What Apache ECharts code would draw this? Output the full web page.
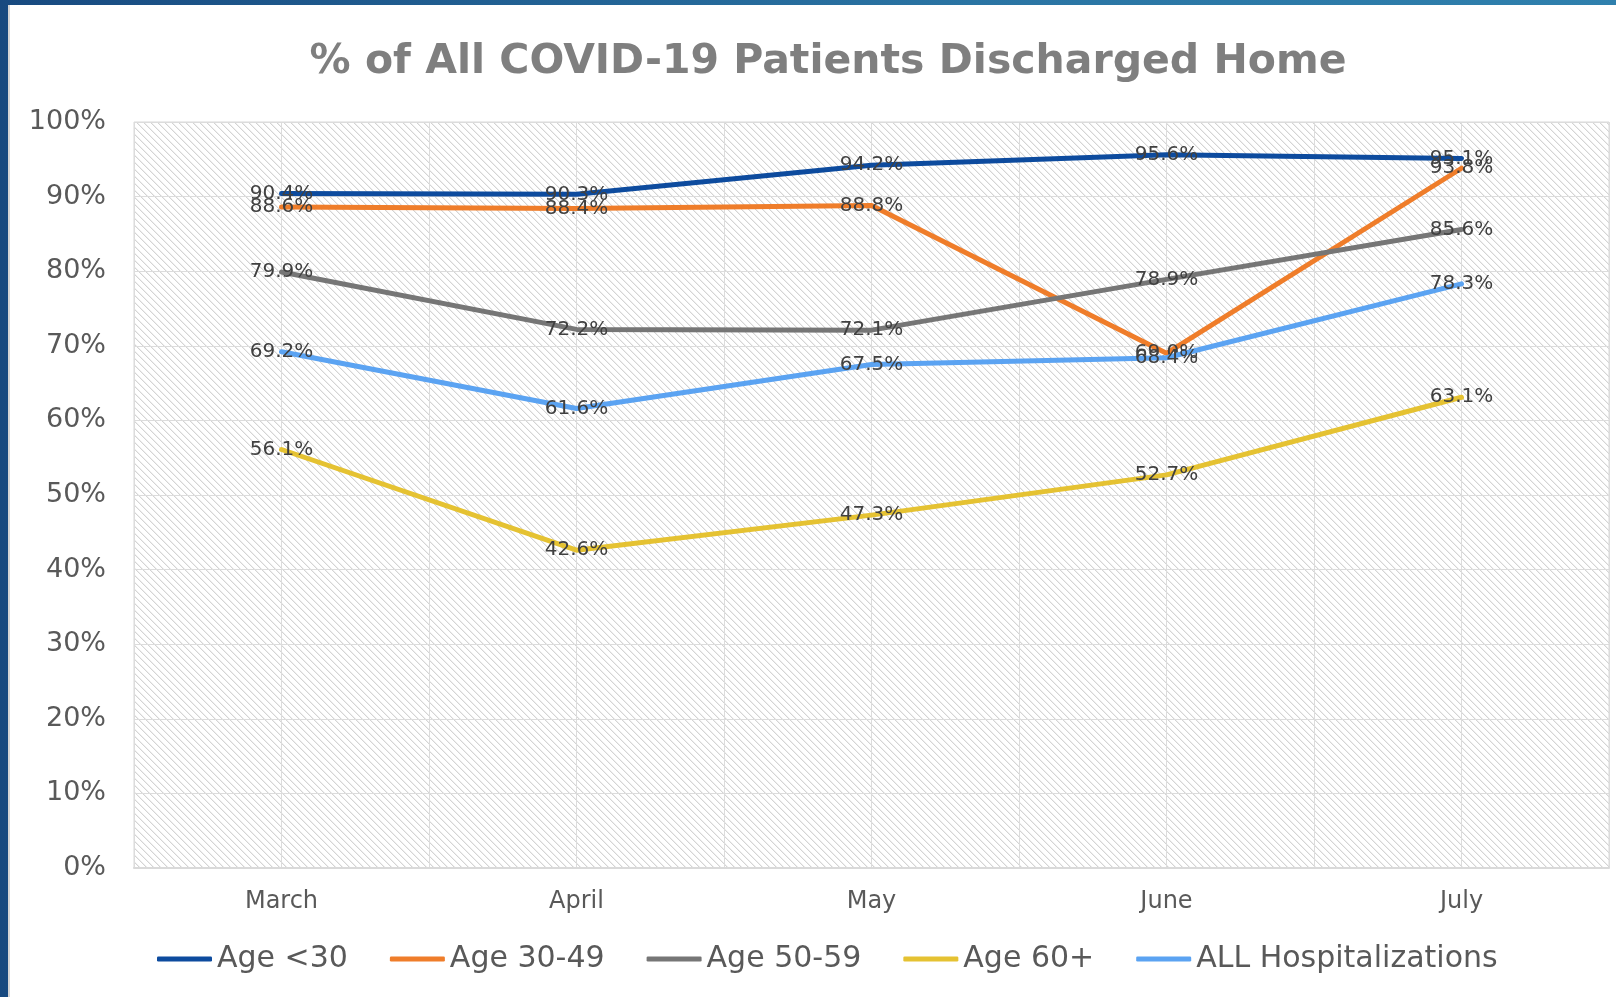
<!DOCTYPE html>
<html>
<head>
<meta charset="utf-8">
<script src="https://cdn.jsdelivr.net/npm/echarts@6/dist/echarts.min.js"></script>
<style>
  html, body { margin: 0; padding: 0; width: 1616px; height: 997px; overflow: hidden; }
  body { background: linear-gradient(to right, #184a80, #2a74a3 60%, #2f80ad); position: relative; }
  #frame { position: absolute; left: 8px; top: 5px; width: 1608px; height: 992px; background: #ffffff; border-left: 2px solid #d6d6d6; box-sizing: border-box; }
  #chart { position: absolute; left: 0; top: 0; width: 1616px; height: 997px; }
</style>
</head>
<body>
<div id="frame"></div>
<div id="chart"></div>
<script>
const months = ['March', 'April', 'May', 'June', 'July'];
const seriesNames = ['Age <30', 'Age 30-49', 'Age 50-59', 'Age 60+', 'ALL Hospitalizations'];
const ageUnder30 = [90.4, 90.3, 94.2, 95.6, 95.1];
const age30to49 = [88.6, 88.4, 88.8, 69.0, 93.8];
const age50to59 = [79.9, 72.2, 72.1, 78.9, 85.6];
const age60plus = [56.1, 42.6, 47.3, 52.7, 63.1];
const allHosp = [69.2, 61.6, 67.5, 68.4, 78.3];
const yTicks = [0, 10, 20, 30, 40, 50, 60, 70, 80, 90, 100];

const colors = ['#0d4b9e', '#ef7d2a', '#767676', '#e5c232', '#5ba3f2'];
const seriesData = [ageUnder30, age30to49, age50to59, age60plus, allHosp];

// hatch pattern
const tile = document.createElement('canvas');
tile.width = 7; tile.height = 7;
const tctx = tile.getContext('2d');
tctx.fillStyle = '#ffffff';
tctx.fillRect(0, 0, 7, 7);
tctx.fillStyle = '#d4d4d4';
for (let i = 0; i < 7; i++) { tctx.fillRect(i, i, 1, 1); }
tctx.fillStyle = '#efefef';
for (let i = 0; i < 7; i++) { tctx.fillRect((i + 1) % 7, i, 1, 1); }

const chart = echarts.init(document.getElementById('chart'), null, { renderer: 'canvas' });
const font = 'DejaVu Sans';
chart.setOption({
  backgroundColor: 'transparent',
  animation: false,
  title: {
    text: '% of All COVID-19 Patients Discharged Home',
    left: 823, top: 37, textAlign: 'center',
    textStyle: { fontFamily: font, fontWeight: 'bold', fontSize: 41, color: '#7f7f7f' }
  },
  legend: {
    left: 157, top: 944, padding: 0,
    icon: 'roundRect',
    itemWidth: 55, itemHeight: 5, itemGap: 42,
    data: seriesNames,
    textStyle: { fontFamily: font, fontSize: 30, color: '#595959' }
  },
  grid: {
    left: 134, top: 122, width: 1475, height: 746,
    show: true,
    backgroundColor: { image: tile, repeat: 'repeat' },
    borderColor: '#d9d9d9', borderWidth: 1
  },
  xAxis: [{
    type: 'category', data: months, boundaryGap: true,
    axisLine: { show: true, lineStyle: { color: '#d9d9d9', width: 2 } },
    axisTick: { show: false },
    splitLine: { show: false },
    axisLabel: { fontFamily: font, fontSize: 24, color: '#595959', margin: 22 }
  }, {
    type: 'value', min: 0, max: 10, interval: 1, position: 'top',
    axisLine: { show: false }, axisTick: { show: false }, axisLabel: { show: false },
    splitLine: { show: true, lineStyle: { color: '#dcdcdc', width: 1 } }
  }],
  yAxis: {
    type: 'value', min: 0, max: 100, interval: 10,
    axisLine: { show: false }, axisTick: { show: false },
    axisLabel: { fontFamily: font, fontSize: 27, color: '#595959', margin: 28,
      formatter: v => v + '%' },
    splitLine: { show: true, lineStyle: { color: '#dcdcdc', width: 1 } }
  },
  series: seriesNames.map((name, i) => ({
    name, type: 'line', xAxisIndex: 0, data: seriesData[i],
    symbol: 'circle', symbolSize: 0.01, showSymbol: true,
    lineStyle: { color: colors[i], width: 5, cap: 'round', join: 'round' },
    itemStyle: { color: colors[i] },
    label: {
      show: true, position: 'inside', padding: [6, 0, 0, 0],
      fontFamily: font, fontSize: 20, color: '#404040',
      formatter: p => p.value.toFixed(1) + '%'
    },
    labelLayout: { hideOverlap: false },
    emphasis: { disabled: true },
    z: 2 + i
  }))
});
</script>
</body>
</html>
